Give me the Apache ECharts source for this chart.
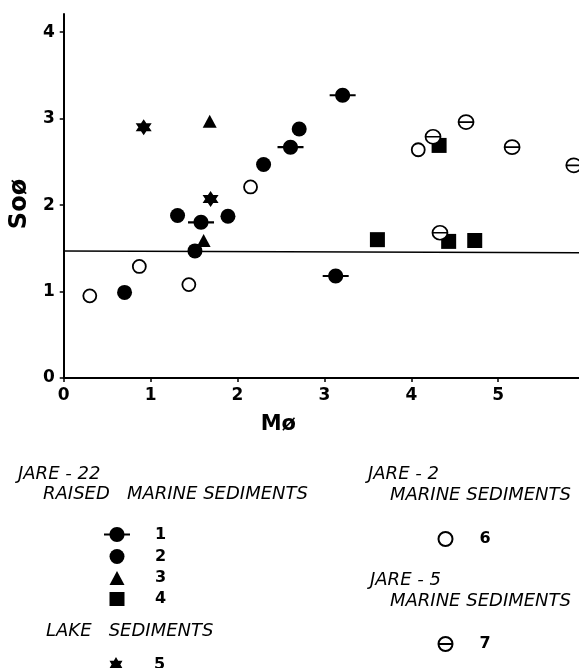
<!DOCTYPE html>
<html><head><meta charset="utf-8">
<script src="https://cdn.jsdelivr.net/npm/echarts@6/dist/echarts.min.js"></script>
<style>html,body{margin:0;padding:0;background:#fff}#c{width:579px;height:668px}</style>
</head><body><div id="c"></div>
<script>
const xTicks = [0, 1, 2, 3, 4, 5];
const yTicks = [0, 1, 2, 3, 4];
const s1 = [[1.58, 1.80], [2.61, 2.67], [3.21, 3.27], [3.13, 1.18]];
const s2 = [[0.70, 0.99], [1.31, 1.88], [1.89, 1.87], [2.30, 2.47], [2.71, 2.88], [1.51, 1.47]];
const s3 = [[1.68, 2.97], [1.61, 1.59]];
const s4 = [[3.61, 1.60], [4.43, 1.58], [4.73, 1.59], [4.32, 2.69]];
const s5 = [[0.92, 2.90], [1.69, 2.07]];
const s6 = [[0.30, 0.95], [0.87, 1.29], [1.44, 1.08], [2.15, 2.21], [4.08, 2.64]];
const s7 = [[4.25, 2.79], [4.63, 2.96], [5.16, 2.67], [5.87, 2.46], [4.33, 1.68]];
const boundaryLine = [[0, 1.47], [5.93, 1.45]];

const BAR_CIRCLE = 'path://M5.5,7.5 C5.5,3.358 8.858,0 13,0 C17.142,0 20.5,3.358 20.5,7.5 C20.5,11.642 17.142,15 13,15 C8.858,15 5.5,11.642 5.5,7.5 Z M0,6.4 L5.8,6.4 L5.8,8.6 L0,8.6 Z M20.2,6.4 L26,6.4 L26,8.6 L20.2,8.6 Z';
const STAR6 = 'path://M7,0 L13.06,10.5 L0.94,10.5 Z M7,14 L0.94,3.5 L13.06,3.5 Z';
const THETA = 'path://M0,7 C0,3.134 3.134,0 7,0 C10.866,0 14,3.134 14,7 C14,10.866 10.866,14 7,14 C3.134,14 0,10.866 0,7 Z M0,7 L14,7';

const chart = echarts.init(document.getElementById('c'));
const tickFont = {fontFamily: 'DejaVu Sans', fontWeight: 'bold', fontSize: 17, color: '#000'};
const capFont = {fontFamily: 'DejaVu Sans', fontStyle: 'italic', fontSize: 18, fill: '#000', verticalAlign: 'middle'};

function txt(t, x, y) {
  return {type: 'text', x: x, y: y, style: Object.assign({text: t}, capFont)};
}
function leg(name, left, cy, w, h, pad) {
  return {left: left, top: cy - h / 2, itemWidth: w, itemHeight: h, selectedMode: false, data: [name],
    textStyle: {fontFamily: 'DejaVu Sans', fontWeight: 'bold', fontSize: 16, color: '#000', padding: [0, 0, 0, pad], lineHeight: 14}};
}

chart.setOption({
  backgroundColor: '#fff',
  animation: false,
  grid: {left: 63, right: 0, top: 14, bottom: 290, containLabel: false},
  xAxis: {
    type: 'value', min: 0, max: 5.93, interval: 1,
    name: 'Mø', nameLocation: 'middle', nameGap: 36,
    nameTextStyle: {fontFamily: 'DejaVu Sans', fontWeight: 'bold', fontSize: 21, color: '#000', padding: [0, 86, 0, 0]},
    axisLine: {lineStyle: {color: '#000', width: 2}},
    axisTick: {show: true, length: 4, customValues: xTicks, lineStyle: {color: '#000', width: 1.5}},
    axisLabel: Object.assign({customValues: xTicks, margin: 9}, tickFont),
    splitLine: {show: false}
  },
  yAxis: {
    type: 'value', min: 0, max: 4.21, interval: 1,
    name: 'Soø', nameLocation: 'middle', nameGap: 20, nameRotate: 90,
    nameTextStyle: {fontFamily: 'DejaVu Sans', fontWeight: 'bold', fontSize: 24, color: '#000', padding: [0, 16, 0, 0]},
    axisLine: {lineStyle: {color: '#000', width: 2}},
    axisTick: {show: true, length: 4, customValues: yTicks, lineStyle: {color: '#000', width: 1.5}},
    axisLabel: Object.assign({customValues: yTicks, margin: 9}, tickFont),
    splitLine: {show: false}
  },
  legend: [
    leg('1', 99, 529, 26, 15, 20),
    leg('2', 104.5, 551, 15, 15, 25.5),
    leg('3', 104.5, 572, 15, 14, 25.5),
    leg('4', 104.5, 593, 15, 14, 25.5),
    leg('5', 104.5, 659, 15, 15, 25.5),
    leg('6', 432.5, 533, 15, 14, 21.5),
    leg('7', 432.5, 638, 15, 14, 21.5)
  ],
  graphic: [
    txt('JARE - 22', 18, 474),
    txt('RAISED   MARINE SEDIMENTS', 43, 494),
    txt('LAKE   SEDIMENTS', 46, 631),
    txt('JARE - 2', 368, 474),
    txt('MARINE SEDIMENTS', 390, 495),
    txt('JARE - 5', 370, 580),
    txt('MARINE SEDIMENTS', 390, 601)
  ],
  series: [
    {type: 'line', data: boundaryLine, symbol: 'none', silent: true, lineStyle: {color: '#000', width: 1.5}, z: 1},
    {name: '1', type: 'scatter', data: s1, symbol: BAR_CIRCLE, symbolSize: [26, 15], itemStyle: {color: '#000', opacity: 1}, z: 3},
    {name: '2', type: 'scatter', data: s2, symbol: 'circle', symbolSize: 15, itemStyle: {color: '#000', opacity: 1}, z: 3},
    {name: '3', type: 'scatter', data: s3, symbol: 'triangle', symbolSize: [14, 13], itemStyle: {color: '#000', opacity: 1}, z: 4},
    {name: '4', type: 'scatter', data: s4, symbol: 'rect', symbolSize: 15, itemStyle: {color: '#000', opacity: 1}, z: 3},
    {name: '5', type: 'scatter', data: s5, symbol: STAR6, symbolSize: 16, itemStyle: {color: '#000', opacity: 1}, z: 3},
    {name: '6', type: 'scatter', data: s6, symbol: 'circle', symbolSize: 13, itemStyle: {color: '#fff', borderColor: '#000', borderWidth: 1.8, opacity: 1}, z: 3},
    {name: '7', type: 'scatter', data: s7, symbol: THETA, symbolSize: [15, 14], itemStyle: {color: '#fff', borderColor: '#000', borderWidth: 1.7, opacity: 1}, z: 3}
  ]
});
</script></body></html>
